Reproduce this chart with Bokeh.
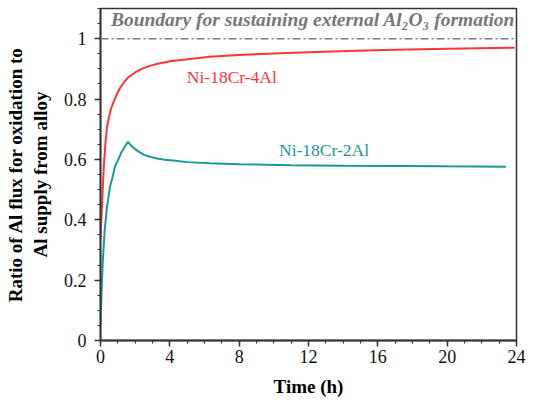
from bokeh.plotting import figure
from bokeh.models import FixedTicker, Label, Span
from bokeh.embed import file_html
from bokeh.resources import INLINE

# Data
red_t = [0, 0.09, 0.19, 0.28, 0.37, 0.47, 0.6, 0.75, 0.9, 1.1, 1.35, 1.6, 2.0, 2.35,
         2.8, 3.3, 4.0, 5.15, 6.3, 8.0, 10.0, 12.0, 14.75, 17.0, 20.0, 23.9]
red_v = [0.34, 0.45, 0.577, 0.65, 0.705, 0.735, 0.767, 0.79, 0.81, 0.834, 0.855, 0.872,
         0.888, 0.899, 0.909, 0.917, 0.925, 0.933, 0.94, 0.946, 0.951, 0.955, 0.96,
         0.963, 0.967, 0.970]

teal_t = [0, 0.056, 0.13, 0.24, 0.37, 0.56, 0.7, 0.84, 1.0, 1.21, 1.4, 1.59, 1.7, 1.85,
          2.0, 2.25, 2.52, 2.9, 3.28, 3.7, 4.2, 5.0, 6.3, 8.0, 11.0, 14.0, 17.0, 20.0, 23.4]
teal_v = [0.05, 0.153, 0.26, 0.365, 0.44, 0.513, 0.542, 0.577, 0.596, 0.624, 0.642,
          0.658, 0.650, 0.641, 0.634, 0.624, 0.615, 0.608, 0.603, 0.599, 0.596, 0.591,
          0.587, 0.584, 0.581, 0.579, 0.578, 0.577, 0.576]

boundary_value = 1.0
x_ticks = [0, 4, 8, 12, 16, 20, 24]
y_ticks = [0, 0.2, 0.4, 0.6, 0.8, 1.0]
y_tick_labels = {0: "0", 0.2: "0.2", 0.4: "0.4", 0.6: "0.6", 0.8: "0.8", 1.0: "1"}

FONT = "Liberation Serif"
AXC = "#333333"
RED = "#FF3535"
TEAL = "#1A9898"

p = figure(width=531, height=401, x_range=(0, 24), y_range=(0, 1.1),
           output_backend="svg", toolbar_location=None,
           min_border_left=100, min_border_right=15, min_border_top=8, min_border_bottom=61)
p.grid.visible = False
p.outline_line_color = AXC
p.outline_line_width = 1.5
p.background_fill_color = "white"
p.border_fill_color = "white"

p.xaxis.ticker = FixedTicker(ticks=x_ticks, minor_ticks=list(range(0, 25)))
p.yaxis.ticker = FixedTicker(ticks=y_ticks, minor_ticks=[i * 0.05 for i in range(0, 23)])
p.yaxis.major_label_overrides = y_tick_labels

for ax in (p.xaxis[0], p.yaxis[0]):
    ax.axis_line_color = AXC
    ax.axis_line_width = 1.8
    ax.major_tick_line_color = AXC
    ax.major_tick_line_width = 1.5
    ax.minor_tick_line_color = AXC
    ax.minor_tick_line_width = 1.2
    ax.major_tick_in = 0
    ax.major_tick_out = 6
    ax.minor_tick_in = 0
    ax.minor_tick_out = 3
    ax.major_label_text_font = FONT
    ax.major_label_text_font_size = "18px"
    ax.major_label_text_color = "#111111"
    ax.axis_label_text_font = FONT
    ax.axis_label_text_font_size = "19px"
    ax.axis_label_text_font_style = "bold"
    ax.axis_label_text_color = "#000000"

p.xaxis.axis_label = "Time (h)"
p.xaxis.major_label_standoff = 3
p.xaxis.axis_label_standoff = 10
p.yaxis.axis_label = "Ratio of Al flux for oxidation to\nAl supply from alloy"
p.yaxis.major_label_standoff = 8
p.yaxis.axis_label_standoff = 10

p.add_layout(Span(location=boundary_value, dimension="width", line_color="#7F7F7F",
                  line_width=1.6, line_dash="8 3 2 3"))

p.line(red_t, red_v, line_color=RED, line_width=2)
p.line(teal_t, teal_v, line_color=TEAL, line_width=2)

p.add_layout(Label(x=4.98, y=0.873, text="Ni-18Cr-4Al", text_color=RED,
                   text_font=FONT, text_font_size="17.5px", text_baseline="middle"))
p.add_layout(Label(x=10.3, y=0.632, text="Ni-18Cr-2Al", text_color=TEAL,
                   text_font=FONT, text_font_size="17.5px", text_baseline="middle"))
p.add_layout(Label(x=0.6, y=1.064, text="Boundary for sustaining external Al\u2082O\u2083 formation",
                   text_color="#777777", text_font=FONT, text_font_size="19.5px",
                   text_font_style="bold italic", text_baseline="middle"))

open("out.html", "w").write(file_html(p, INLINE))
